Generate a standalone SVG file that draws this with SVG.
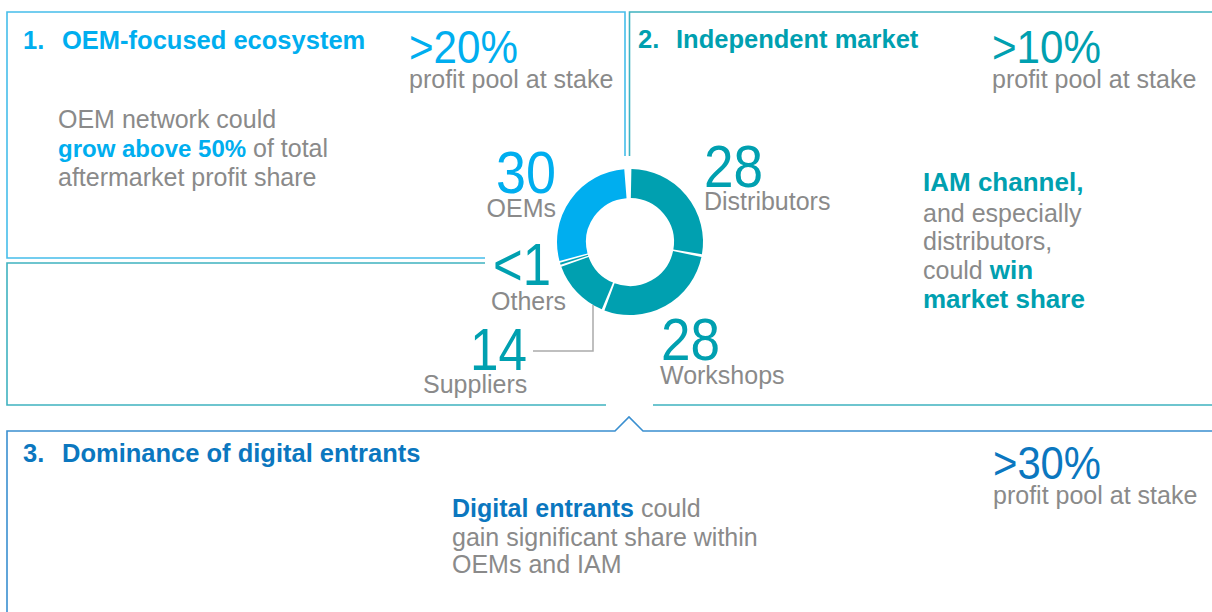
<svg xmlns="http://www.w3.org/2000/svg" width="1212" height="612" viewBox="0 0 1212 612">
<style>
text{font-family:"Liberation Sans",Arial,sans-serif;}
.g{fill:#8a8a8a;font-size:25px;}
.title{font-size:25.5px;font-weight:bold;}
.big{font-size:46px;}
.num{font-size:60px;}
.b{font-weight:bold;}
.lb{fill:#00aeef;}
.tl{fill:#00a0b0;}
.bl{fill:#0b77bf;}
.frame{fill:none;stroke-width:1.6;}
.seg{fill:none;stroke-width:29;}
</style>
<rect width="1212" height="612" fill="#ffffff"/>

<g id="panel-oem">
<path class="frame" stroke="#45bdea" d="M625,156 V12 H7 V258 H485"/>
<text class="title lb" y="49"><tspan x="23">1.</tspan><tspan x="62">OEM-focused ecosystem</tspan></text>
<text class="big lb" x="409" y="63" textLength="109" lengthAdjust="spacingAndGlyphs">&gt;20%</text>
<text class="g" x="409" y="88">profit pool at stake</text>
<text class="g" x="58" y="128">OEM network could</text>
<text class="g" x="58" y="157"><tspan class="b lb" font-size="24">grow above 50%</tspan> of total</text>
<text class="g" x="58" y="186">aftermarket profit share</text>
</g>

<g id="panel-iam">
<path class="frame" stroke="#3fb2c0" d="M629.5,156 V12 H1213 M1213,405 H653 M606,405 H7 V263 H485"/>
<text class="title tl" y="48"><tspan x="638">2.</tspan><tspan x="676">Independent market</tspan></text>
<text class="big tl" x="992" y="63" textLength="109" lengthAdjust="spacingAndGlyphs">&gt;10%</text>
<text class="g" x="992" y="88">profit pool at stake</text>
<text class="tl b" x="923" y="191" font-size="26">IAM channel,</text>
<text class="g" x="923" y="222">and especially</text>
<text class="g" x="923" y="250">distributors,</text>
<text class="g" x="923" y="279">could <tspan class="b tl" font-size="26">win</tspan></text>
<text class="tl b" x="923" y="308" font-size="26">market share</text>
</g>

<g id="panel-digital">
<path class="frame" stroke="#3a8fd0" d="M1213,431 H643 L629,417 L615,431 H7 V613"/>
<text class="title bl" y="462"><tspan x="23">3.</tspan><tspan x="62">Dominance of digital entrants</tspan></text>
<text class="big bl" x="993" y="479" textLength="108" lengthAdjust="spacingAndGlyphs">&gt;30%</text>
<text class="g" x="993" y="504">profit pool at stake</text>
<text class="g" x="452" y="517"><tspan class="b bl" font-size="25">Digital entrants</tspan> could</text>
<text class="g" x="452" y="546">gain significant share within</text>
<text class="g" x="452" y="573">OEMs and IAM</text>
</g>

<g id="donut">
<path class="seg" stroke="#00a0b0" d="M631.12,183.51 A58.5,58.5 0 0 1 687.66,251.86"/>
<path class="seg" stroke="#00a0b0" d="M687.24,254.06 A58.5,58.5 0 0 1 609.51,296.80"/>
<path class="seg" stroke="#00a0b0" d="M607.42,295.97 A58.5,58.5 0 0 1 574.96,261.81"/>
<path class="seg" stroke="#00a0b0" d="M574.42,260.27 A58.5,58.5 0 0 1 573.94,258.71"/>
<path class="seg" stroke="#00aeef" d="M573.49,257.14 A58.5,58.5 0 0 1 625.4,183.7"/>
</g>

<g id="label-oems">
<text class="num lb" x="496" y="193" textLength="60" lengthAdjust="spacingAndGlyphs">30</text>
<text class="g" x="556" y="217" text-anchor="end">OEMs</text>
</g>
<g id="label-distributors">
<text class="num tl" x="704" y="187" textLength="59" lengthAdjust="spacingAndGlyphs">28</text>
<text class="g" x="704" y="210">Distributors</text>
</g>
<g id="label-others">
<text class="num tl" x="493" y="285" textLength="58" lengthAdjust="spacingAndGlyphs">&lt;1</text>
<text class="g" x="491" y="310">Others</text>
</g>
<g id="label-suppliers">
<text class="num tl" x="470" y="370" textLength="57" lengthAdjust="spacingAndGlyphs">14</text>
<text class="g" x="423" y="393">Suppliers</text>
</g>
<g id="label-workshops">
<text class="num tl" x="661" y="360" textLength="59" lengthAdjust="spacingAndGlyphs">28</text>
<text class="g" x="660" y="384">Workshops</text>
</g>

<g id="connectors">
<path d="M533,351 H593 V305" fill="none" stroke="#aaaaaa" stroke-width="1.5"/>
</g>
</svg>
